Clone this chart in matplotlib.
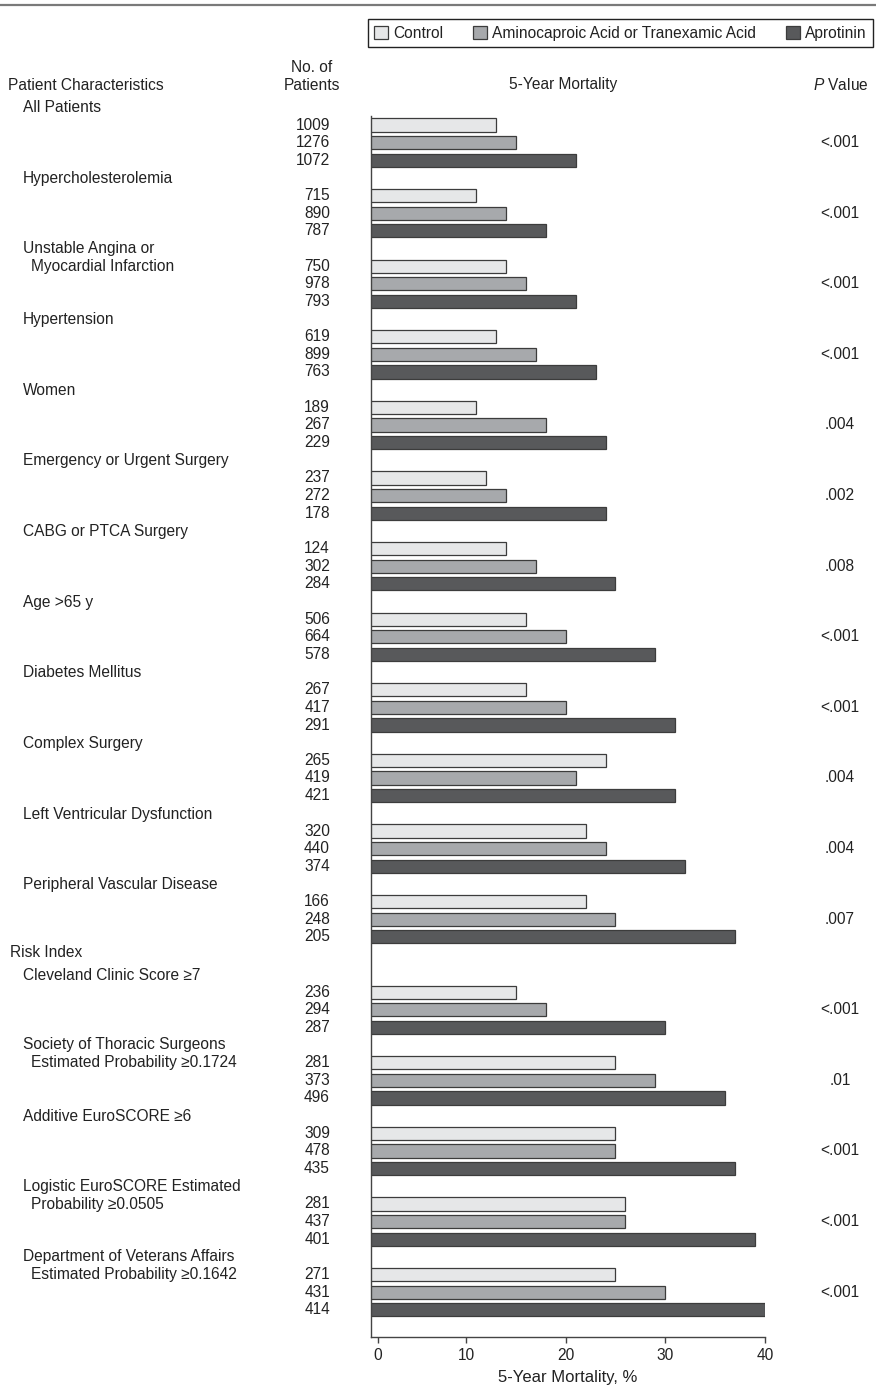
import matplotlib
matplotlib.use("Agg")
import matplotlib.pyplot as plt
from matplotlib.patches import Patch
from matplotlib.lines import Line2D

plt.rcParams['font.family'] = ['Liberation Sans', 'DejaVu Sans']
plt.rcParams['mathtext.fontset'] = 'custom'
plt.rcParams['mathtext.it'] = 'Liberation Sans:italic'
plt.rcParams['mathtext.rm'] = 'Liberation Sans'

# ---------------- data ----------------
categories = [
    "All Patients",
    "Hypercholesterolemia",
    "Unstable Angina or\nMyocardial Infarction",
    "Hypertension",
    "Women",
    "Emergency or Urgent Surgery",
    "CABG or PTCA Surgery",
    "Age >65 y",
    "Diabetes Mellitus",
    "Complex Surgery",
    "Left Ventricular Dysfunction",
    "Peripheral Vascular Disease",
    "Cleveland Clinic Score \u22657",
    "Society of Thoracic Surgeons\nEstimated Probability \u22650.1724",
    "Additive EuroSCORE \u22656",
    "Logistic EuroSCORE Estimated\nProbability \u22650.0505",
    "Department of Veterans Affairs\nEstimated Probability \u22650.1642",
]
section_headers = ["Patient Characteristics", "Risk Index"]
n_patient_chars = 12  # categories before "Risk Index"

series_names = ["Control", "Aminocaproic Acid or Tranexamic Acid", "Aprotinin"]

mort_control = [13, 11, 14, 13, 11, 12, 14, 16, 16, 24, 22, 22, 15, 25, 25, 26, 25]
mort_acid    = [15, 14, 16, 17, 18, 14, 17, 20, 20, 21, 24, 25, 18, 29, 25, 26, 30]
mort_aprot   = [21, 18, 21, 23, 24, 24, 25, 29, 31, 31, 32, 37, 30, 36, 37, 39, 40]

n_control = [1009, 715, 750, 619, 189, 237, 124, 506, 267, 265, 320, 166, 236, 281, 309, 281, 271]
n_acid    = [1276, 890, 978, 899, 267, 272, 302, 664, 417, 419, 440, 248, 294, 373, 478, 437, 431]
n_aprot   = [1072, 787, 793, 763, 229, 178, 284, 578, 291, 421, 374, 205, 287, 496, 435, 401, 414]

p_values = ["<.001", "<.001", "<.001", "<.001", ".004", ".002", ".008", "<.001", "<.001",
            ".004", ".004", ".007", "<.001", ".01", "<.001", "<.001", "<.001"]

x_ticks = [0, 10, 20, 30, 40]

# ---------------- styling / layout ----------------
W, H = 876, 1387
colors = ["#e6e7e8", "#a7a9ac", "#58595b"]
edge = "#3c3c3c"
txt = "#222222"
fs = 11.2

def fx(x):
    return x / W

def fy(y):
    return 1 - y / H

fig = plt.figure(figsize=(W / 100, H / 100), dpi=100)

# top rule
fig.add_artist(Line2D([0, 1], [fy(5), fy(5)], transform=fig.transFigure,
                      color="#7a7a7a", lw=1.6))

# main axes in pixel-like y units
ax_left, ax_right, ax_top, ax_bottom = 370.5, 765.0, 116.0, 1337.0
ax = fig.add_axes([fx(ax_left), fy(ax_bottom), fx(ax_right - ax_left), (ax_bottom - ax_top) / H])
ax.set_ylim(ax_bottom, ax_top)
# x scale: 10 units = 99.7 px, zero at 366.3 px (ticks 10-40), spine at 370.5
px_per_unit = 9.97
zero_px = 366.3
ax.set_xlim((ax_left - zero_px) / px_per_unit, (ax_right - zero_px) / px_per_unit)

group_start = 125.0
group_pitch = 70.6
section_gap = 20.0
bar_pitch = 17.6
bar_h = 13.3

group_y = []
for i in range(len(categories)):
    y = group_start + i * group_pitch + (section_gap if i >= n_patient_chars else 0)
    group_y.append(y)

series_vals = [mort_control, mort_acid, mort_aprot]
series_n = [n_control, n_acid, n_aprot]
for s in range(3):
    ys = [g + s * bar_pitch for g in group_y]
    ax.barh(ys, series_vals[s], left=0, height=bar_h, color=colors[s],
            edgecolor=edge, linewidth=0.9, zorder=2)

for sp in ["top", "right"]:
    ax.spines[sp].set_visible(False)
for sp in ["left", "bottom"]:
    ax.spines[sp].set_color("#444444")
    ax.spines[sp].set_linewidth(1.0)
ax.set_yticks([])
# the reference draws its "0" tick slightly right of the true zero
zero_tick_pos = (377.7 - zero_px) / px_per_unit
ax.set_xticks([zero_tick_pos] + x_ticks[1:])
ax.set_xticklabels([str(t) for t in x_ticks])
ax.tick_params(axis="x", direction="out", length=4, width=1.0, color="#444444",
               labelsize=fs, labelcolor=txt, pad=4)
ax.set_xlabel("5-Year Mortality, %", fontsize=12, color=txt, labelpad=5)

# headers
fig.text(fx(8), fy(85), section_headers[0], fontsize=fs, color=txt, va="center", ha="left")
fig.text(fx(312), fy(67), "No. of", fontsize=fs, color=txt, va="center", ha="center")
fig.text(fx(312), fy(85), "Patients", fontsize=fs, color=txt, va="center", ha="center")
fig.text(fx(563), fy(85), "5-Year Mortality", fontsize=fs, color=txt, va="center", ha="center")
fig.text(fx(869), fy(85), r"$\mathit{P}$" + " Value", fontsize=fs, color=txt, va="center", ha="right")
fig.text(fx(10), fy(group_y[n_patient_chars] - 40), section_headers[1], fontsize=fs,
         color=txt, va="center", ha="left")

# category labels, counts, p-values
for i, cat in enumerate(categories):
    g = group_y[i]
    lines = cat.split("\n")
    if len(lines) == 1:
        fig.text(fx(23), fy(g - 17), lines[0], fontsize=fs, color=txt, va="center", ha="left")
    else:
        fig.text(fx(23), fy(g - 18), lines[0], fontsize=fs, color=txt, va="center", ha="left")
        fig.text(fx(31), fy(g), lines[1], fontsize=fs, color=txt, va="center", ha="left")
    for s in range(3):
        fig.text(fx(330), fy(g + s * bar_pitch), str(series_n[s][i]), fontsize=fs,
                 color=txt, va="center", ha="right")
    fig.text(fx(840), fy(g + bar_pitch), p_values[i], fontsize=fs, color=txt,
             va="center", ha="center")

# legend
handles = [Patch(facecolor=colors[s], edgecolor=edge, linewidth=0.9) for s in range(3)]
leg = fig.legend(handles, series_names, loc="upper right",
                 bbox_to_anchor=(fx(873), fy(19)), ncol=3, fontsize=fs,
                 frameon=True, fancybox=False, edgecolor="#222222", framealpha=1,
                 handlelength=0.9, handleheight=0.9, handletextpad=0.3,
                 columnspacing=1.95, borderpad=0.42, borderaxespad=0)
leg.get_frame().set_linewidth(1.0)
for t in leg.get_texts():
    t.set_color(txt)

fig.savefig("out.png", dpi=100)
